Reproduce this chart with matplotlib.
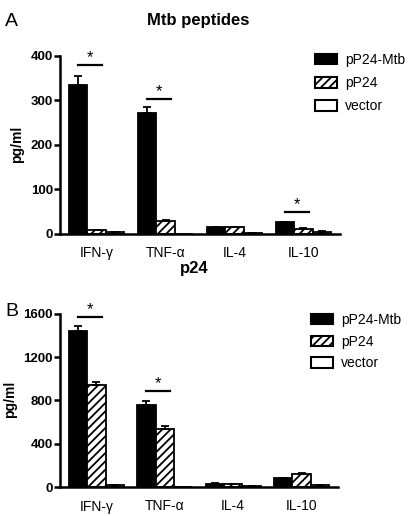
import numpy as np
import matplotlib
matplotlib.use("Agg")
import matplotlib.pyplot as plt
from matplotlib.patches import Patch

# datos
citoquinas = ["IFN-γ", "TNF-α", "IL-4", "IL-10"]
grupos = ["pP24-Mtb", "pP24", "vector"]

# panel A: Mtb peptides
a_mtb = [335, 271, 15, 26]
a_p24 = [8, 30, 15, 12]
a_vec = [4, 1, 3, 5]
a_err_mtb = [20, 13, 1, 2]
a_err_p24 = [1, 2, 1, 1]
a_err_vec = [1, 0, 0, 1]

# panel B: p24
b_mtb = [1445, 759, 30, 80]
b_p24 = [940, 539, 25, 120]
b_vec = [20, 2, 5, 15]
b_err_mtb = [45, 36, 3, 5]
b_err_p24 = [28, 28, 2, 6]
b_err_vec = [2, 0, 1, 2]

plt.rcParams['font.family'] = ['Liberation Sans', 'DejaVu Sans']
plt.rcParams['hatch.linewidth'] = 1.3

fig = plt.figure(figsize=(4.08, 5.16), dpi=100)
W, H = 408, 516
axA = fig.add_axes([60 / W, 1 - 234 / H, 280 / W, 180 / H])
axB = fig.add_axes([60 / W, 1 - 487 / H, 278 / W, 175 / H])

w = 0.27
x = np.arange(len(citoquinas))
estilos = [dict(facecolor="black", edgecolor="black"),
           dict(facecolor="white", edgecolor="black", hatch="////"),
           dict(facecolor="white", edgecolor="black")]


def barras(ax, vals, errs):
    for i, (v, e, st) in enumerate(zip(vals, errs, estilos)):
        pos = x + (i - 1) * w
        ax.bar(pos, v, w, linewidth=1.3, zorder=2, **st)
        ax.errorbar(pos, v, yerr=[np.zeros(len(e)), e], fmt="none",
                    ecolor="black", elinewidth=1.3, capsize=3, capthick=1.3,
                    zorder=3)


def estrella(ax, i, y, dy):
    ax.plot([i - w, i + 0.3 * w], [y, y], color="black", lw=1.6, zorder=3)
    ax.text(i - 0.35 * w, y + dy, "*", ha="center", va="center",
            fontsize=12)


def formato(ax, ymax, paso):
    for s in ["top", "right"]:
        ax.spines[s].set_visible(False)
    ax.spines["left"].set_linewidth(1.8)
    ax.spines["bottom"].set_linewidth(1.8)
    ax.spines["left"].set_bounds(0, ymax)
    ax.set_ylim(0, ymax * 1.01)
    ax.set_xlim(-0.53, 3.53)
    ax.set_yticks(np.arange(0, ymax + 1, paso))
    ax.tick_params(axis="y", width=1.8, length=4, labelsize=9.5, pad=1)
    ax.tick_params(axis="x", length=0, labelsize=10, pad=9)
    ax.set_xticks(x)
    ax.set_xticklabels(citoquinas)
    for t in ax.get_yticklabels():
        t.set_fontweight("bold")
    ax.set_ylabel("pg/ml", fontsize=10, fontweight="bold", labelpad=5)


def leyenda(ax, bx, by, esp):
    handles = [Patch(linewidth=1.5, **st) for st in estilos]
    return ax.legend(handles, grupos, loc="upper left", bbox_to_anchor=(bx / W, 1 - by / H),
                     bbox_transform=fig.transFigure, frameon=False, fontsize=10,
                     handlelength=1.6, handleheight=0.8, labelspacing=esp,
                     borderaxespad=0, handletextpad=0.55, borderpad=0)


barras(axA, [a_mtb, a_p24, a_vec], [a_err_mtb, a_err_p24, a_err_vec])
formato(axA, 400, 100)
estrella(axA, 0, 380, 16)
estrella(axA, 1, 304, 16)
estrella(axA, 3, 49, 16)

barras(axB, [b_mtb, b_p24, b_vec], [b_err_mtb, b_err_p24, b_err_vec])
formato(axB, 1600, 400)
estrella(axB, 0, 1570, 65)
estrella(axB, 1, 887, 65)

leyenda(axA, 315, 53, 0.65)
leyenda(axB, 311, 313, 0.55)

fig.text(198 / W, 1 - 20 / H, "Mtb peptides", ha="center", va="center",
         fontsize=12, fontweight="bold")
fig.text(194 / W, 1 - 268 / H, "p24", ha="center", va="center",
         fontsize=12, fontweight="bold")
fig.text(11 / W, 1 - 22 / H, "A", ha="center", va="center", fontsize=14)
fig.text(12 / W, 1 - 312 / H, "B", ha="center", va="center", fontsize=14)

fig.savefig("out.png", dpi=100)
